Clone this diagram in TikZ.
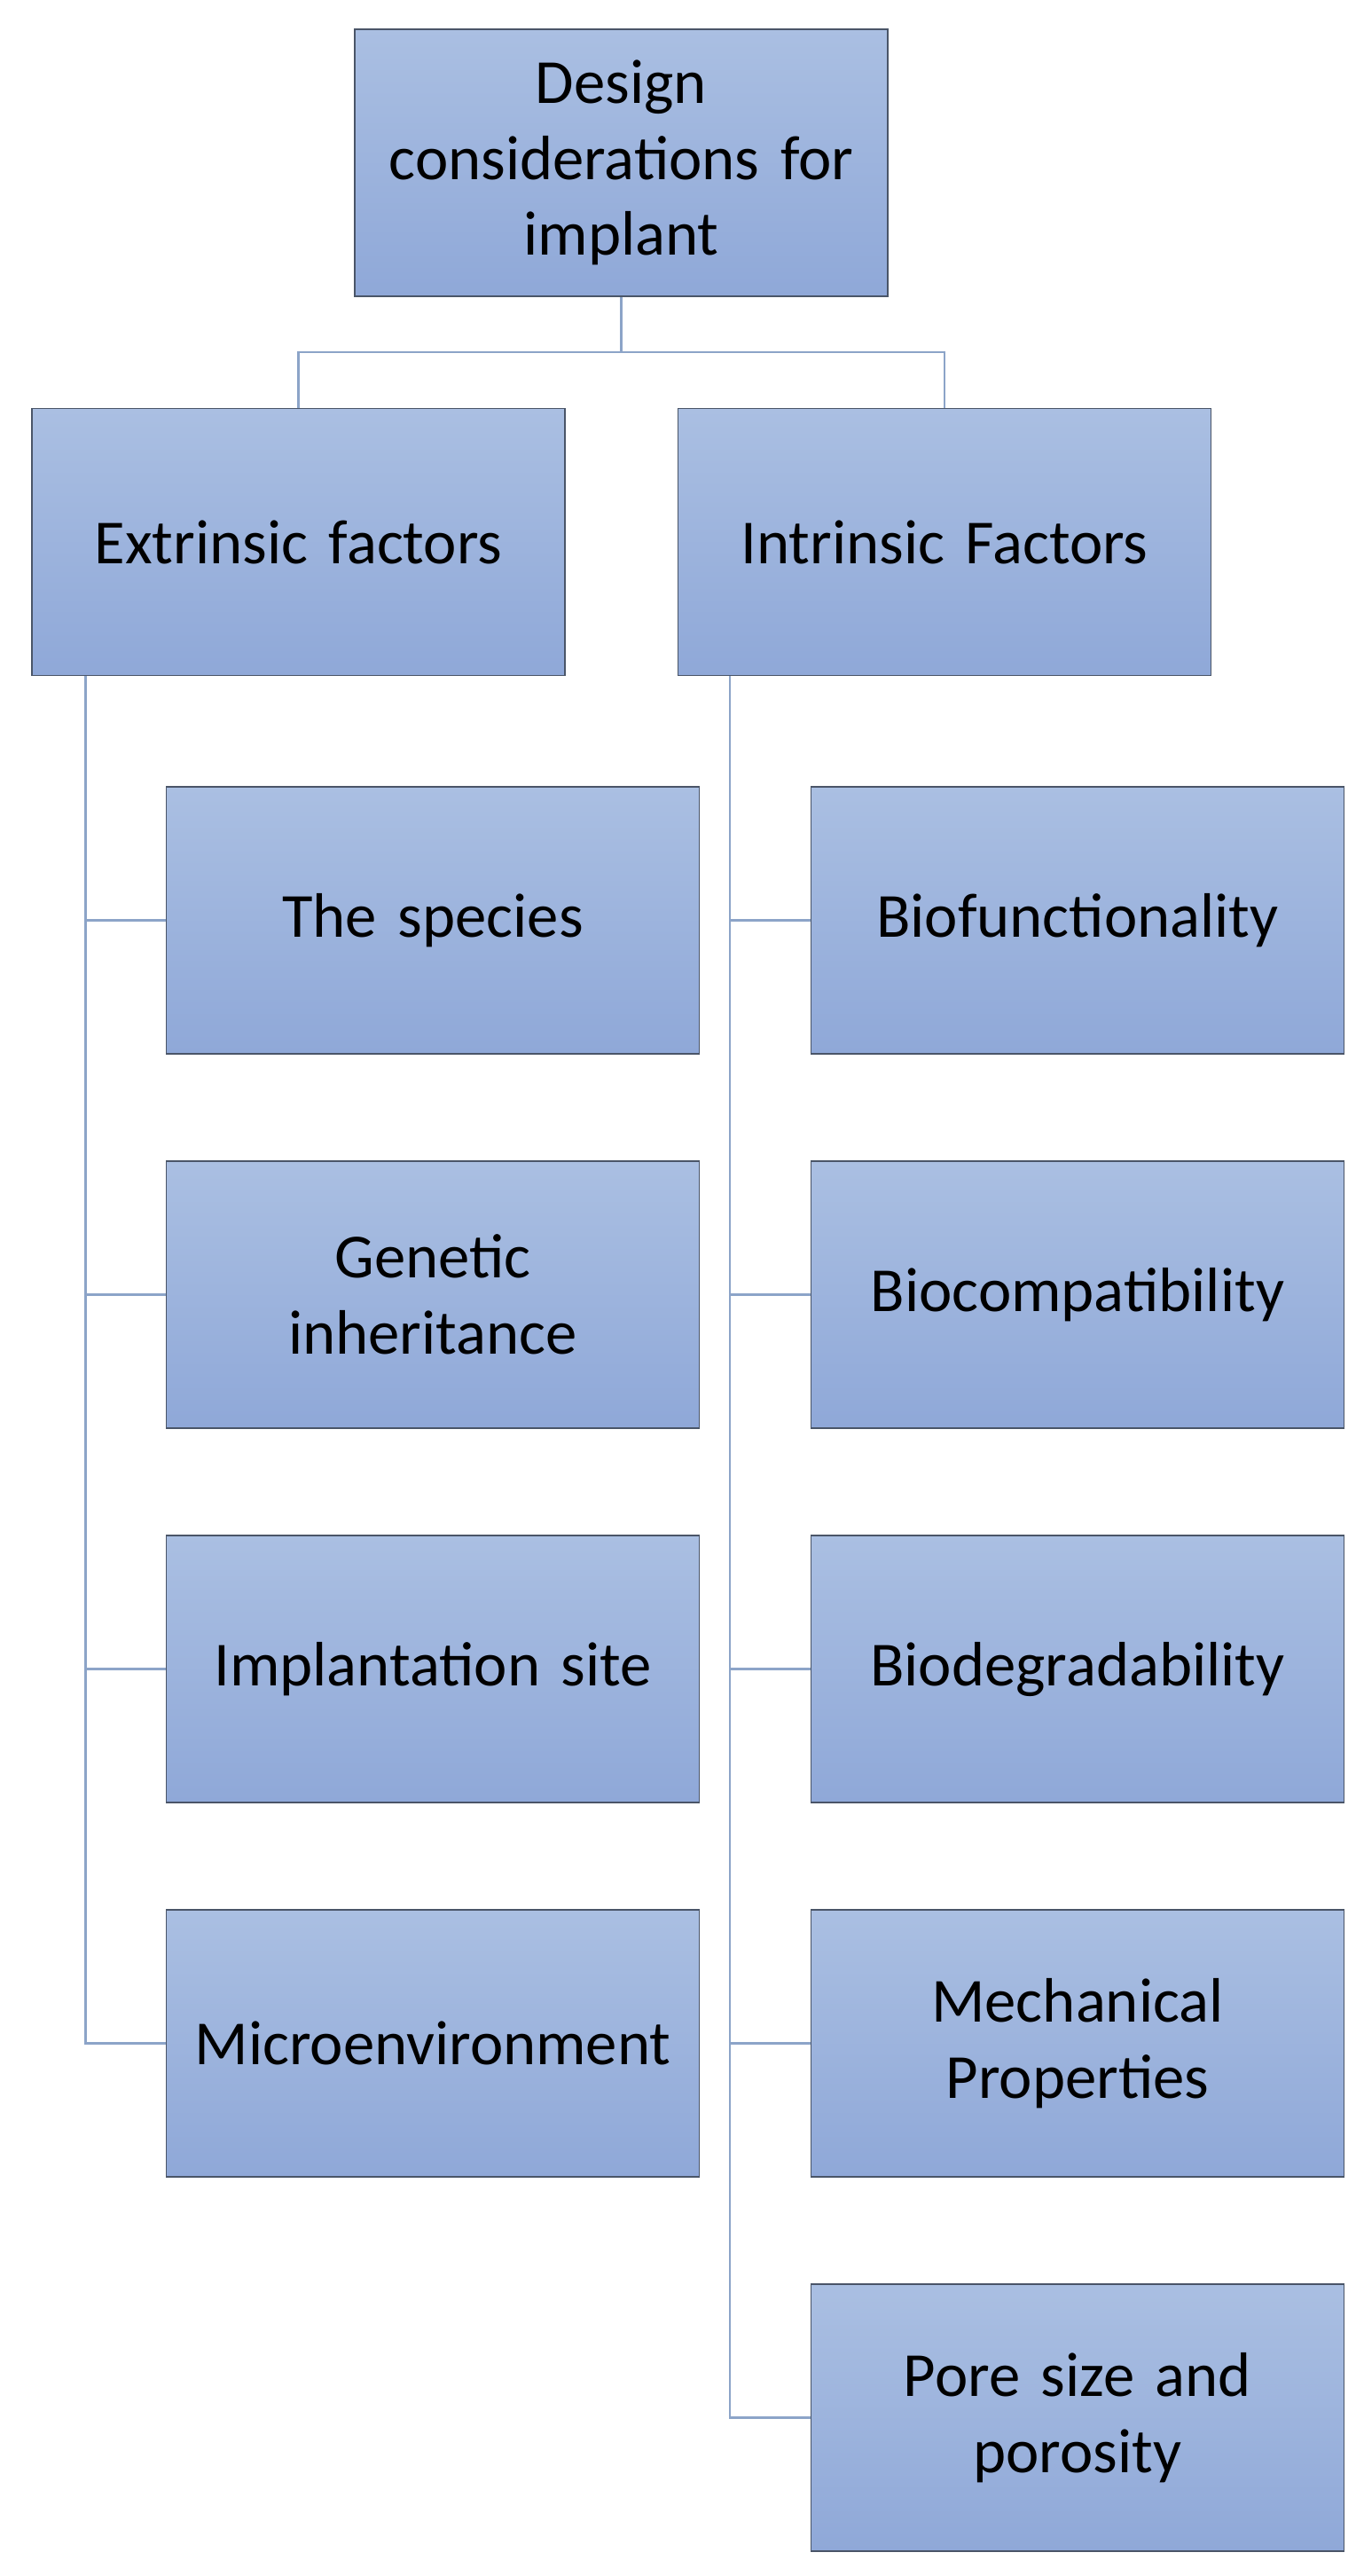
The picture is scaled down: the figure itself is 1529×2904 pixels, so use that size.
\documentclass[tikz,border=0pt]{standalone}
\usepackage{fontspec}
\setmainfont{Carlito}
\definecolor{boxtop}{HTML}{AABFE2}
\definecolor{boxbot}{HTML}{8FA8D8}
\definecolor{boxline}{HTML}{4A5568}
\definecolor{conn}{HTML}{8CA4C8}
\begin{document}
\begin{tikzpicture}[x=1bp,y=-1bp,
  box/.style={rectangle,draw=boxline,line width=1.5bp,top color=boxtop,bottom color=boxbot,
    minimum width=601bp,minimum height=301bp,inner sep=0pt,align=center,
    font=\fontsize{71}{86}\selectfont,text width=590bp},
  link/.style={draw=conn,line width=2.5bp}]
\useasboundingbox (0,0) rectangle (1529,2904);
\node[box] (top) at (700.5,183.5) {Design\\considerations for\\implant};
\node[box] (ext) at (336.5,611) {Extrinsic factors};
\node[box] (int) at (1065,611) {Intrinsic Factors};
\node[box] (l1) at (488,1037.5) {The species};
\node[box] (l2) at (488,1459.5) {Genetic\\inheritance};
\node[box] (l3) at (488,1881.5) {Implantation site};
\node[box] (l4) at (488,2303.5) {Microenvironment};
\node[box] (r1) at (1215,1037.5) {Biofunctionality};
\node[box] (r2) at (1215,1459.5) {Biocompatibility};
\node[box] (r3) at (1215,1881.5) {Biodegradability};
\node[box] (r4) at (1215,2303.5) {Mechanical\\Properties};
\node[box] (r5) at (1215,2725.5) {Pore size and\\porosity};
\coordinate (mid) at (700.5,397);
\path[link] (top.south) -- (mid);
\path[link] (mid) -| (ext.north);
\path[link] (mid) -| (int.north);
\foreach \n in {l1,l2,l3,l4}{\path[link] ([xshift=-240bp]ext.south) |- (\n.west);}
\foreach \n in {r1,r2,r3,r4,r5}{\path[link] ([xshift=-242bp]int.south) |- (\n.west);}
\end{tikzpicture}
\end{document}
